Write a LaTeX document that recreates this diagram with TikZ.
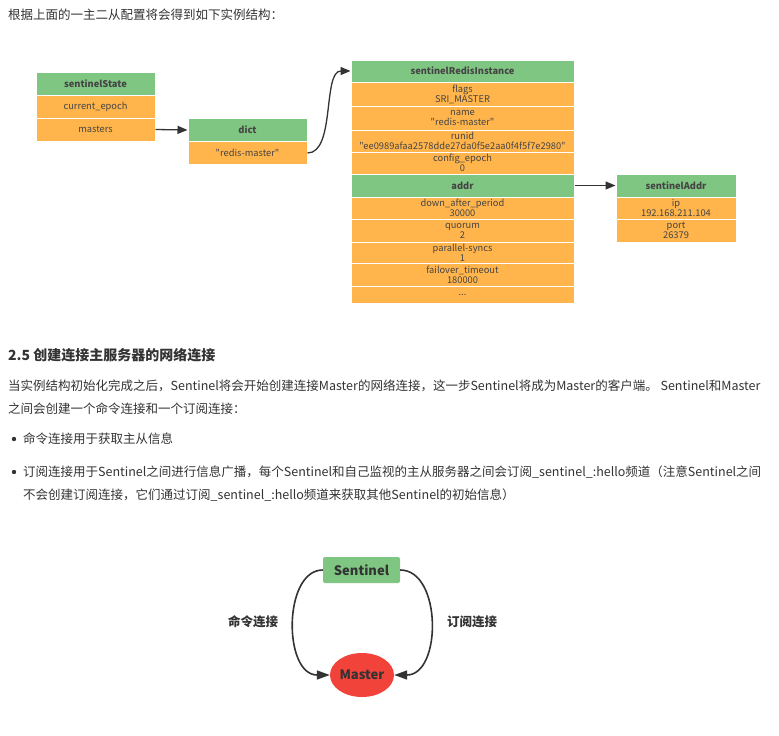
\documentclass[tikz,border=0pt]{standalone}
\usepackage{fontspec}
\setmainfont{Noto Sans CJK SC}
\newfontfamily\cellfont{Noto Sans CJK SC}
\usetikzlibrary{arrows.meta,shapes.geometric}
\definecolor{grn}{HTML}{80C683}
\definecolor{org}{HTML}{FFB54C}
\definecolor{txt}{HTML}{333333}
\definecolor{celltxt}{HTML}{444444}
\definecolor{mred}{HTML}{F2433A}
\definecolor{lne}{HTML}{333333}
\begin{document}
\begin{tikzpicture}[x=1pt,y=-1pt,
  every node/.style={text=txt},
  body/.style={anchor=west,inner sep=0pt,font=\fontsize{12.5}{15}\selectfont},
  cellbase/.style={draw=white,line width=1pt,inner sep=0pt,align=center,text=celltxt,
    font=\cellfont\fontsize{9.3}{10}\selectfont},
  hdr/.style={cellbase,fill=grn,font=\cellfont\fontsize{9.3}{10}\selectfont\bfseries},
  fld/.style={cellbase,fill=org},
  arr/.style={draw=lne,line width=1.3pt,-{Triangle[length=10pt,width=8pt]}},
  bigarr/.style={draw=lne,line width=1.6pt,-{Triangle[length=13pt,width=9pt]}},
  lbl/.style={font=\fontsize{12.5}{15}\selectfont\bfseries,text=txt}
]
\useasboundingbox[fill=white] (0,0) rectangle (779,736);

% intro line
\node[body] (intro) at (8,15) {根据上面的一主二从配置将会得到如下实例结构：};

% sentinelState
\node[hdr,minimum width=119,minimum height=23] (ss) at (95.5,83.5) {sentinelState};
\node[fld,minimum width=119,minimum height=23] (ce) at (95.5,106.5) {current\_epoch};
\node[fld,minimum width=119,minimum height=23] (ms) at (95.5,129.5) {masters};

% dict
\node[hdr,minimum width=119,minimum height=23] (dict) at (247.5,130) {dict};
\node[fld,minimum width=119,minimum height=23] (dval) at (247.5,153) {"redis-master"};

% sentinelRedisInstance
\node[hdr,minimum width=223,minimum height=22] (sri) at (462.5,71) {sentinelRedisInstance};
\node[fld,minimum width=223,minimum height=24] (flags) at (462.5,94) {flags\\SRI\_MASTER};
\node[fld,minimum width=223,minimum height=24] (name) at (462.5,118) {name\\"redis-master"};
\node[fld,minimum width=223,minimum height=22] (runid) at (462.5,141) {runid\\"ee0989afaa2578dde27da0f5e2aa0f4f5f7e2980"};
\node[fld,minimum width=223,minimum height=22] (cep) at (462.5,163) {config\_epoch\\0};
\node[hdr,minimum width=223,minimum height=23] (addr) at (462.5,185.5) {addr};
\node[fld,minimum width=223,minimum height=22] (dap) at (462.5,208) {down\_after\_period\\30000};
\node[fld,minimum width=223,minimum height=23] (quo) at (462.5,230.5) {quorum\\2};
\node[fld,minimum width=223,minimum height=21] (ps) at (462.5,252.5) {parallel-syncs\\1};
\node[fld,minimum width=223,minimum height=23] (ft) at (462.5,274.5) {failover\_timeout\\180000};
\node[fld,minimum width=223,minimum height=17] (dots) at (462.5,294.5) {...};

% sentinelAddr
\node[hdr,minimum width=120,minimum height=23] (sa) at (676,185.5) {sentinelAddr};
\node[fld,minimum width=120,minimum height=22] (ip) at (676,208) {ip\\192.168.211.104};
\node[fld,minimum width=120,minimum height=23] (port) at (676,230.5) {port\\26379};

% connectors
\draw[arr] (ms.east) -- (dict.west);
\draw[arr] (dval.east) .. controls +(28,0) and +(-28,0) .. (sri.west);
\draw[arr] (addr.east) -- (sa.west);

% section text
\node[body,font=\fontsize{14}{16}\selectfont\bfseries] (h25) at (8,355) {2.5 创建连接主服务器的网络连接};
\node[body] (p1) at (8,386) {当实例结构初始化完成之后，Sentinel将会开始创建连接Master的网络连接，这一步Sentinel将成为Master的客户端。 Sentinel和Master};
\node[body] (p2) at (8,409) {之间会创建一个命令连接和一个订阅连接：};
\fill[txt] (14,439) circle (2.2);
\node[body] (b1) at (23,439) {命令连接用于获取主从信息};
\fill[txt] (14,472) circle (2.2);
\node[body] (b2) at (23,472) {订阅连接用于Sentinel之间进行信息广播，每个Sentinel和自己监视的主从服务器之间会订阅\_sentinel\_:hello频道（注意Sentinel之间};
\node[body] (b3) at (23,495) {不会创建订阅连接，它们通过订阅\_sentinel\_:hello频道来获取其他Sentinel的初始信息）};

% second diagram
\node[fill=grn,rounded corners=2pt,minimum width=77,minimum height=26,inner sep=0pt,
  font=\fontsize{13}{15}\selectfont\bfseries] (sent) at (361.5,570) {Sentinel};
\node[ellipse,fill=mred,minimum width=64,minimum height=44,inner sep=0pt,
  font=\fontsize{13}{15}\selectfont\bfseries] (master) at (362,675) {Master};
\draw[bigarr] (sent.west) .. controls (283,570) and (283,675) .. (master.west);
\draw[bigarr] (sent.east) .. controls (442,570) and (442,675) .. (master.east);
\node[lbl] (cmd) at (253,622) {命令连接};
\node[lbl] (sub) at (472,622) {订阅连接};
\end{tikzpicture}
\end{document}
